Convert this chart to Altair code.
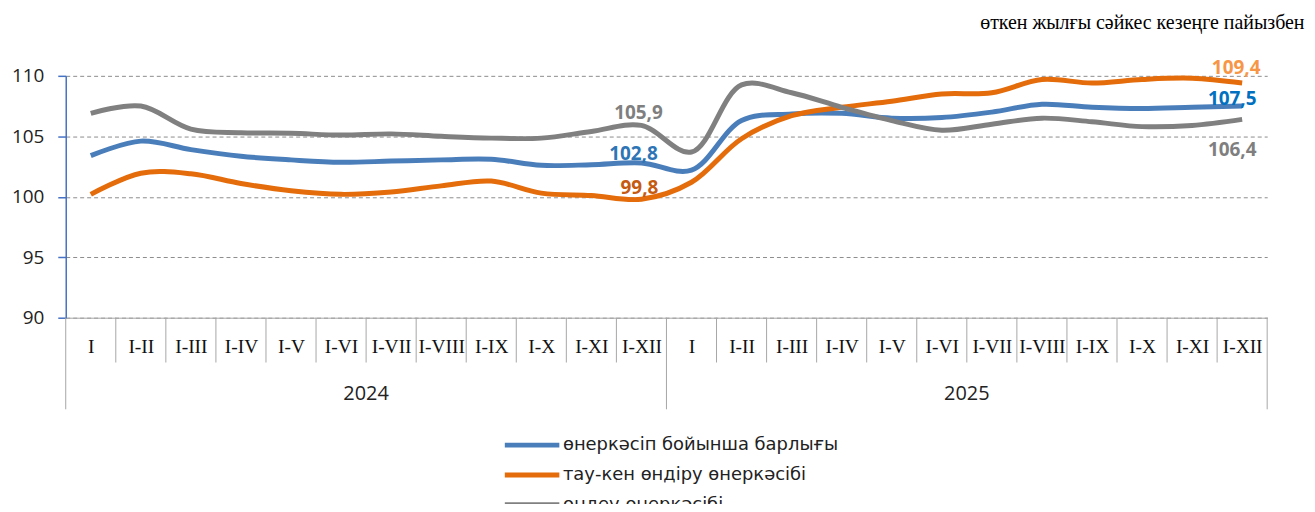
import json
import altair as alt
import pandas as pd

months = ["I", "I-II", "I-III", "I-IV", "I-V", "I-VI", "I-VII", "I-VIII", "I-IX", "I-X", "I-XI", "I-XII"]
years = ["2024", "2025"]

s_total = "өнеркәсіп бойынша барлығы"
s_mining = "тау-кен өндіру өнеркәсібі"
s_manuf = "өңдеу өнеркәсібі"
series_names = [s_total, s_mining, s_manuf]
series_colors = ["#4A7EBB", "#E46C0A", "#808080"]

total = [103.4, 104.6, 103.9, 103.35, 103.05, 102.85, 102.95, 103.05, 103.1, 102.6, 102.65, 102.8,
         102.2, 106.3, 106.85, 106.9, 106.5, 106.55, 107.0, 107.65, 107.4, 107.3, 107.4, 107.5]
mining = [100.2, 101.95, 101.9, 101.1, 100.5, 100.2, 100.4, 100.9, 101.3, 100.3, 100.1, 99.8,
          101.2, 104.8, 106.7, 107.4, 107.9, 108.5, 108.6, 109.7, 109.4, 109.7, 109.8, 109.4]
manuf = [106.9, 107.5, 105.6, 105.3, 105.25, 105.1, 105.2, 105.0, 104.85, 104.85, 105.4, 105.9,
         103.7, 109.25, 108.6, 107.4, 106.3, 105.5, 106.0, 106.5, 106.2, 105.8, 105.9, 106.4]

y_ticks = [90, 95, 100, 105, 110]
subtitle = "өткен жылғы сәйкес кезеңге пайызбен"

W, H = 1207, 243
n = len(months) * len(years)

rows = []
for name, vals in zip(series_names, [total, mining, manuf]):
    for i, v in enumerate(vals):
        rows.append({"idx": i, "series": name, "value": v})
df = pd.DataFrame(rows)

xscale = alt.Scale(domain=[-0.5, n - 0.5], nice=False, zero=False)
yscale = alt.Scale(domain=[90, 110], nice=False, zero=False)
label_expr = json.dumps(months) + "[datum.value % 12]"

xaxis = alt.Axis(values=list(range(n)), labelExpr=label_expr, title=None, ticks=False, tickSize=0,
                 grid=False, domainColor="#A6A6A6", domainWidth=1, labelFont="Liberation Serif",
                 labelFontSize=19.5, labelColor="#111111", labelPadding=20, labelFlush=False)
yaxis = alt.Axis(values=y_ticks, title=None, ticks=True, tickSize=8, tickColor="#4472C4", tickWidth=1.5,
                 grid=True, gridDash=[4, 3], gridColor="#8C8C8C", gridWidth=1, domainColor="#4472C4",
                 domainWidth=1.5, labelFont="Open Sans", labelFontSize=19, labelColor="#222222",
                 labelPadding=14)


def X():
    return alt.X("idx:Q", scale=xscale, axis=xaxis)


def Y():
    return alt.Y("value:Q", scale=yscale, axis=yaxis)


lines = alt.Chart(df).mark_line(strokeWidth=5, interpolate="catmull-rom").encode(
    x=X(), y=Y(),
    color=alt.Color("series:N", sort=series_names,
                    scale=alt.Scale(domain=series_names, range=series_colors),
                    legend=alt.Legend(orient="none", legendX=459.5, legendY=362, title=None, direction="vertical",
                                      symbolType="M-10,0L10,0", symbolSize=30, symbolStrokeWidth=5,
                                      labelOffset=22, labelFont="DejaVu Sans", labelFontSize=18,
                                      labelColor="#222222", labelLimit=600, rowPadding=10)),
    order=alt.Order("idx:Q"),
)


def val_label(vals, i, color, dx, dy):
    d = pd.DataFrame({"idx": [i], "value": [vals[i]], "lab": [f"{vals[i]:.1f}".replace(".", ",")]})
    return alt.Chart(d).mark_text(fontSize=19, fontWeight="bold", font="Open Sans", color=color,
                                  dx=dx, dy=dy).encode(x=X(), y=Y(), text="lab:N")


labels = [
    val_label(manuf, 11, "#7F7F7F", -3, -12),
    val_label(total, 11, "#2E75B6", -8, -9),
    val_label(mining, 11, "#C55A11", -2, -11),
    val_label(mining, 23, "#F79646", -6, -15),
    val_label(total, 23, "#0070C0", -10, -7),
    val_label(manuf, 23, "#7F7F7F", -10, 31),
]

short_b = [k - 0.5 for k in range(1, n) if k % 12 != 0]
long_b = [k - 0.5 for k in range(0, n + 1, 12)]
short_rules = alt.Chart(pd.DataFrame({"idx": short_b})).mark_rule(color="#A6A6A6", strokeWidth=1).encode(
    x=X(), y=alt.value(H), y2=alt.value(H + 45))
long_rules = alt.Chart(pd.DataFrame({"idx": long_b})).mark_rule(color="#A6A6A6", strokeWidth=1).encode(
    x=X(), y=alt.value(H), y2=alt.value(H + 92))

year_df = pd.DataFrame({"idx": [5.5 + 12 * j for j in range(len(years))], "year": years})
year_text = alt.Chart(year_df).mark_text(font="Open Sans", fontSize=20, color="#222222").encode(
    x=X(), y=alt.value(H + 77), text="year:N")

chart = alt.layer(lines, short_rules, long_rules, *labels, year_text).properties(
    width=W, height=H,
    autosize=alt.AutoSizeParams(type="none"),
    padding={"left": 58, "top": 67, "right": 40, "bottom": 186},
    title=alt.TitleParams(subtitle, anchor="end", font="Liberation Serif", fontSize=20,
                          fontWeight="normal", color="#000000", dx=37, offset=26),
).configure_view(stroke=None)

chart.save("out.html", embed_options={"renderer": "svg", "actions": False})
